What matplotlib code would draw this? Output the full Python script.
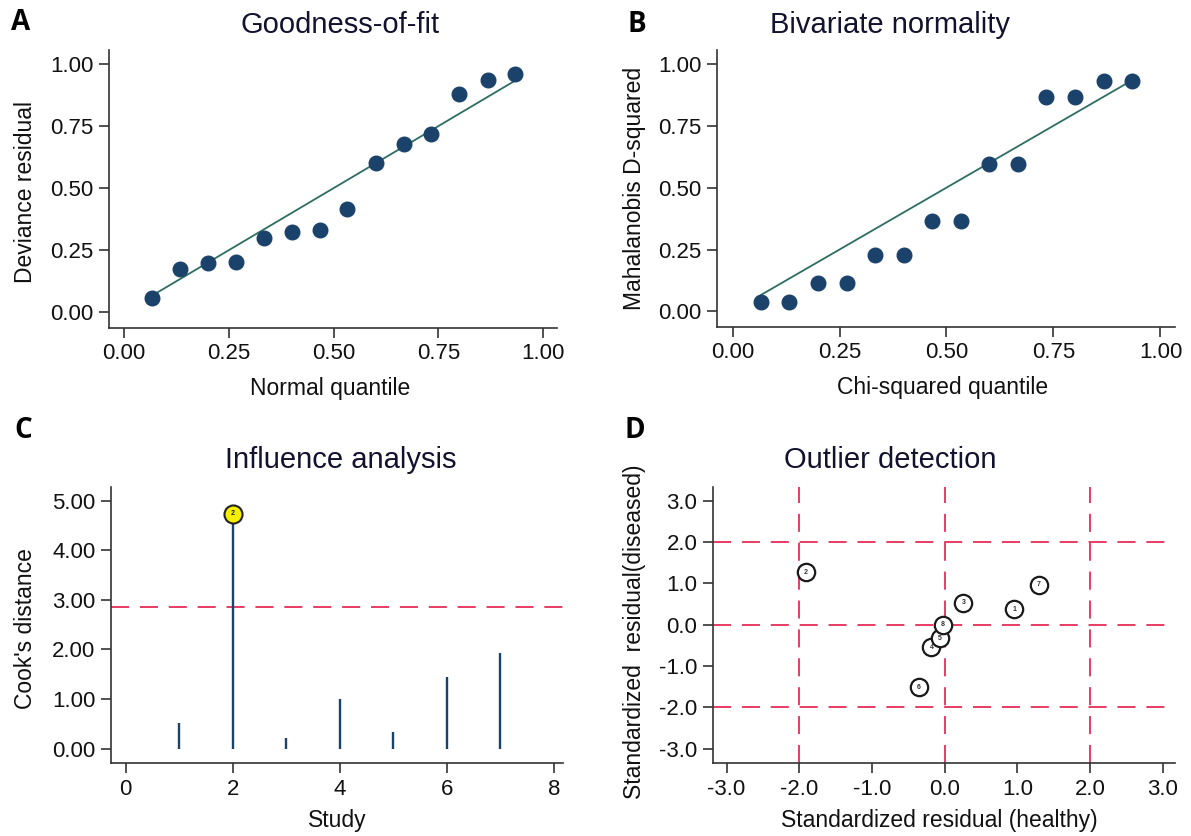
import matplotlib.pyplot as plt
import numpy as np

plt.rcParams['font.family'] = ['Liberation Sans', 'DejaVu Sans']

W, H = 1191, 836

# panel A / B: quantile plots
quantile = [0.067, 0.133, 0.200, 0.267, 0.333, 0.400, 0.467,
            0.533, 0.600, 0.667, 0.733, 0.800, 0.867, 0.933]
deviance = [0.056, 0.174, 0.200, 0.204, 0.301, 0.322, 0.332,
            0.415, 0.601, 0.678, 0.719, 0.879, 0.937, 0.961]
mahal_d2 = [0.039, 0.039, 0.113, 0.113, 0.227, 0.227, 0.366,
            0.366, 0.597, 0.597, 0.867, 0.867, 0.932, 0.932]
fit_ends = [0.067, 0.933]
unit_ticks = [0.00, 0.25, 0.50, 0.75, 1.00]
unit_labels = ['0.00', '0.25', '0.50', '0.75', '1.00']

# panel C: Cook's distance
study = [1, 2, 3, 4, 5, 6, 7]
cooks = [0.51, 4.73, 0.21, 1.00, 0.33, 1.44, 1.92]
cooks_cut = 2.86
flagged = 2
cooks_ticks = [0, 1, 2, 3, 4, 5]
cooks_labels = ['0.00', '1.00', '2.00', '3.00', '4.00', '5.00']
study_ticks = [0, 2, 4, 6, 8]

# panel D: standardized residuals
resid_healthy = [0.96, -1.91, 0.26, -0.18, -0.06, -0.35, 1.30, -0.02]
resid_diseased = [0.38, 1.27, 0.53, -0.54, -0.32, -1.51, 0.97, 0.00]
point_ids = ['1', '2', '3', '4', '5', '6', '7', '8']
resid_cuts = [-2.0, 0.0, 2.0]
resid_ticks = [-3, -2, -1, 0, 1, 2, 3]
resid_labels = ['-3.0', '-2.0', '-1.0', '0.0', '1.0', '2.0', '3.0']

navy = '#1b426b'
teal = '#2d6d62'
red = '#e52d58'
txt = '#111111'
title_c = '#12122e'
dash = (0, (10, 6))


def fpos(x, y):
    return x / W, 1 - y / H


def add_panel(fig, left, top, right, bottom):
    return fig.add_axes([left / W, 1 - bottom / H, (right - left) / W, (bottom - top) / H])


def style(ax):
    for s in ['top', 'right']:
        ax.spines[s].set_visible(False)
    for s in ['left', 'bottom']:
        ax.spines[s].set_color('#333333')
        ax.spines[s].set_linewidth(1.2)
    ax.tick_params(direction='out', length=7, width=1.2, color='#333333',
                   labelsize=16, labelcolor=txt, pad=4)


fig = plt.figure(figsize=(W / 100, H / 100), dpi=100)

# ---- A
axA = add_panel(fig, 108.7, 50, 556.8, 328)
axA.plot(fit_ends, fit_ends, color=teal, lw=1.3, zorder=2)
axA.plot(quantile, deviance, 'o', color=navy, ms=10.5, zorder=3)
axA.set_xlim(-0.036, 1.032)
axA.set_ylim(-0.063, 1.056)
axA.set_xticks(unit_ticks, unit_labels)
axA.set_yticks(unit_ticks, unit_labels)
style(axA)

# ---- B
axB = add_panel(fig, 716.7, 50, 1175, 327)
axB.plot(fit_ends, fit_ends, color=teal, lw=1.3, zorder=2)
axB.plot(quantile, mahal_d2, 'o', color=navy, ms=10.5, zorder=3)
axB.set_xlim(-0.037, 1.034)
axB.set_ylim(-0.063, 1.056)
axB.set_xticks(unit_ticks, unit_labels)
axB.set_yticks(unit_ticks, unit_labels)
style(axB)

# ---- C
axC = add_panel(fig, 110.7, 486.7, 563, 763.3)
axC.vlines(study, 0, cooks, color=navy, lw=1.7, zorder=2)
axC.axhline(cooks_cut, color=red, lw=1.3, ls=dash, zorder=1)
i = study.index(flagged)
axC.plot([study[i]], [cooks[i]], 'o', ms=13, mfc='#f5f000', mec='#222222', mew=1.5, zorder=3)
axC.text(study[i], cooks[i], str(flagged), fontsize=5, fontweight='bold', ha='center',
         va='center', color='#222222', zorder=4)
axC.set_xlim(-0.28, 8.17)
axC.set_ylim(-0.294, 5.28)
axC.set_xticks(study_ticks, [str(t) for t in study_ticks])
axC.set_yticks(cooks_ticks, cooks_labels)
style(axC)

# ---- D
axD = add_panel(fig, 712.7, 486.7, 1175, 763.3)
for c in resid_cuts:
    axD.axhline(c, color=red, lw=1.3, ls=dash, zorder=1)
    axD.axvline(c, color=red, lw=1.3, ls=dash, zorder=1)
axD.plot(resid_healthy, resid_diseased, 'o', ms=12.5, mfc='white', mec='#1a1a1a',
         mew=1.6, zorder=3)
for hx, dy, lab in zip(resid_healthy, resid_diseased, point_ids):
    axD.text(hx, dy, lab, fontsize=5, fontweight='bold', ha='center', va='center',
             color='#333333', zorder=4)
axD.set_xlim(-3.19, 3.17)
axD.set_ylim(-3.35, 3.34)
axD.set_xticks(resid_ticks, resid_labels)
axD.set_yticks(resid_ticks, resid_labels)
style(axD)

# titles, axis labels, panel letters
titles = [('Goodness-of-fit', 340, 25), ('Bivariate normality', 890, 25),
          ('Influence analysis', 341, 460), ('Outlier detection', 890, 460)]
for t, x, y in titles:
    fig.text(*fpos(x, y), t, fontsize=21, color=title_c, ha='center', va='center')

xlabels = [('Normal quantile', 330, 388), ('Chi-squared quantile', 943, 387),
           ('Study', 337, 820), ('Standardized residual (healthy)', 939, 820)]
for t, x, y in xlabels:
    fig.text(*fpos(x, y), t, fontsize=16.5, color=txt, ha='center', va='center')

ylabels = [('Deviance residual', 26, 192), ('Mahalanobis D-squared', 634, 188),
           ("Cook's distance", 26, 629), ('Standardized  residual(diseased)', 634, 632)]
for t, x, y in ylabels:
    fig.text(*fpos(x, y), t, fontsize=16.5, color=txt, ha='center', va='center',
             rotation=90)

letters = [('A', 21, 23), ('B', 637, 24), ('C', 23, 431), ('D', 635, 431)]
for t, x, y in letters:
    fig.text(*fpos(x, y), t, fontsize=20, fontweight='bold', color='black',
             ha='center', va='center', family=['Open Sans', 'DejaVu Sans'])

fig.savefig('out.png', dpi=100)
